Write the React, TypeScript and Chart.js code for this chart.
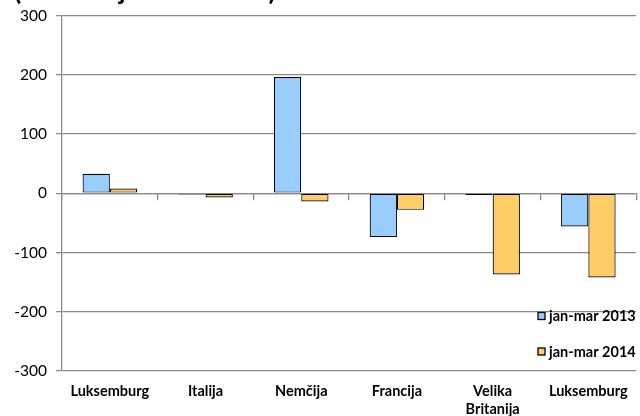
import React, { useEffect, useRef } from "react";
import { Chart, registerables } from "chart.js";

Chart.register(...registerables);

const titleText = "(Investicije v mio EUR)";
const categories: (string | string[])[] = [
  "Luksemburg",
  "Italija",
  "Nemčija",
  "Francija",
  ["Velika", "Britanija"],
  "Luksemburg",
];
const seriesLabels = ["jan-mar 2013", "jan-mar 2014"];
const series2013 = [33, -2, 196, -74, -3, -56];
const series2014 = [8, -7, -14, -28, -137, -142];
const yMin = -300;
const yMax = 300;
const yStep = 100;

const BLUE = "#99CCFF";
const ORANGE = "#FFCC66";
const GRID = "#8a8a8a";
const FONT = "Lato";

const titlePlugin = {
  id: "cutTitle",
  afterDraw(chart: any) {
    const ctx = chart.ctx;
    ctx.save();
    let size = 24;
    ctx.font = `bold ${size}px ${FONT}`;
    const w = ctx.measureText(titleText).width;
    size = (size * 262) / w;
    ctx.font = `bold ${size}px ${FONT}`;
    ctx.fillStyle = "#000";
    ctx.textBaseline = "alphabetic";
    ctx.textAlign = "left";
    ctx.fillText(titleText, 14, 23.5);
    ctx.restore();
  },
};

const legendPlugin = {
  id: "innerLegend",
  afterDraw(chart: any) {
    const ctx = chart.ctx;
    const rows = [340, 375.5];
    ctx.save();
    chart.data.datasets.forEach((ds: any, i: number) => {
      const cy = rows[i];
      ctx.fillStyle = ds.backgroundColor;
      ctx.fillRect(538, cy - 3.5, 7, 7);
      ctx.lineWidth = 1.3;
      ctx.strokeStyle = "#000";
      ctx.strokeRect(538, cy - 3.5, 7, 7);
      ctx.fillStyle = "#000";
      ctx.font = `bold 14.5px ${FONT}`;
      ctx.textBaseline = "middle";
      ctx.textAlign = "left";
      ctx.fillText(ds.label, 549, cy + 0.5);
    });
    ctx.restore();
  },
};

export default function App() {
  const ref = useRef<HTMLCanvasElement | null>(null);
  useEffect(() => {
    if (!ref.current) return;
    const chart = new Chart(ref.current, {
      type: "bar",
      data: {
        labels: categories as any,
        datasets: [
          {
            label: seriesLabels[0],
            data: series2013,
            backgroundColor: BLUE,
            borderColor: "#000",
            borderWidth: 1.2,
            borderSkipped: false,
          },
          {
            label: seriesLabels[1],
            data: series2014,
            backgroundColor: ORANGE,
            borderColor: "#000",
            borderWidth: 1.2,
            borderSkipped: false,
          },
        ],
      },
      options: {
        responsive: false,
        animation: false,
        devicePixelRatio: 1,
        datasets: {
          bar: { categoryPercentage: 0.57, barPercentage: 1 },
        },
        layout: { padding: { top: 39.5, left: 0, right: 3, bottom: 0 } },
        plugins: {
          legend: { display: false },
          title: { display: false },
          tooltip: { enabled: false },
        },
        scales: {
          x: {
            type: "category",
            position: "bottom",
            offset: true,
            grid: { display: false, drawTicks: false },
            border: { display: false },
            ticks: {
              color: "#000",
              font: { family: FONT, size: 14.5, weight: "bold", lineHeight: 1.2 },
              padding: 12,
              maxRotation: 0,
              autoSkip: false,
            },
            afterFit: (s: any) => {
              s.height = 45;
            },
          },
          x0: {
            type: "category",
            position: { y: 0 } as any,
            offset: true,
            grid: {
              display: true,
              drawOnChartArea: false,
              drawTicks: true,
              tickLength: 6,
              color: GRID,
              lineWidth: 1.3,
              offset: true,
            },
            border: { display: true, color: GRID, width: 1.3 },
            ticks: { display: false },
          },
          y: {
            min: yMin,
            max: yMax,
            grid: {
              color: GRID,
              lineWidth: 1.3,
              drawTicks: true,
              tickLength: 6,
              tickColor: GRID,
            },
            border: { display: true, color: GRID, width: 1.3 },
            ticks: {
              stepSize: yStep,
              color: "#000",
              font: { family: FONT, size: 15.5 },
              padding: 9,
            },
            afterFit: (s: any) => {
              s.width = 62;
            },
          },
        },
      },
      plugins: [titlePlugin, legendPlugin],
    });
    return () => chart.destroy();
  }, []);
  return (
    <div style={{ position: "absolute", left: 0, top: -24, width: 640, height: 440 }}>
      <canvas ref={ref} width={640} height={440} style={{ width: 640, height: 440 }} />
    </div>
  );
}
